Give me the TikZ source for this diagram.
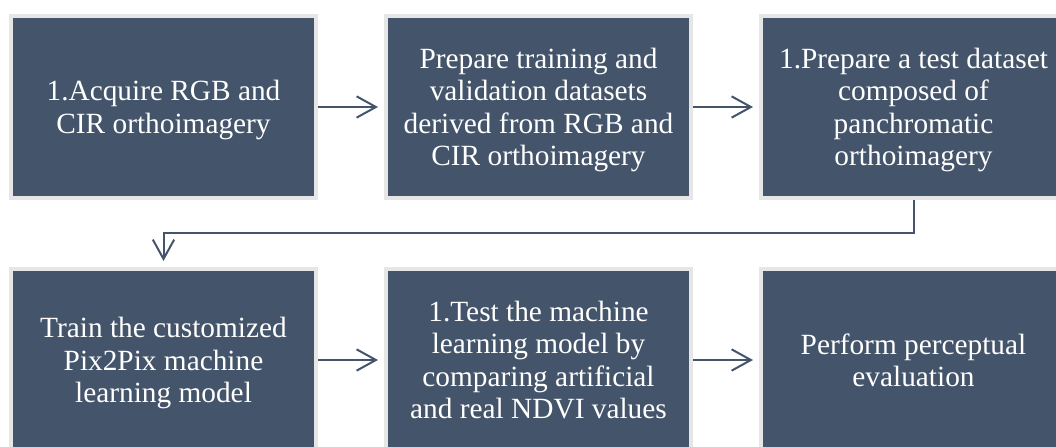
\documentclass[tikz,border=0pt]{standalone}
\usepackage{fontspec}
\setmainfont{Liberation Serif}
\usetikzlibrary{arrows.meta}

\definecolor{slate}{HTML}{44546A}
\definecolor{frame}{HTML}{E7E6E6}

\tikzset{
  stepbox/.style={
    rectangle, fill=slate, draw=frame, line width=3pt,
    minimum width=228.75pt, minimum height=136.5pt,
    inner sep=0pt, align=center, text=white, text depth=0pt,
    font=\fontsize{22}{24.4}\selectfont
  },
  flow/.style={
    draw=slate, line width=1.5pt,
    -{Straight Barb[length=14.5pt,width=16pt,line width=1.5pt]},
    shorten >=4.5pt
  }
}

\begin{document}
\begin{tikzpicture}[x=0.75pt, y=-0.75pt]
  \clip (0,0) rectangle (1056,446);

  % top row
  \node[stepbox] (b1) at (163.5,107) {1.Acquire RGB and\\CIR orthoimagery};
  \node[stepbox] (b2) at (538.5,107) {Prepare training and\\validation datasets\\derived from RGB and\\CIR orthoimagery};
  \node[stepbox] (b3) at (913.5,107) {1.Prepare a test dataset\\composed of\\panchromatic\\orthoimagery};

  % bottom row
  \node[stepbox] (b4) at (163.5,360) {Train the customized\\Pix2Pix machine\\learning model};
  \node[stepbox] (b5) at (538.5,360) {1.Test the machine\\learning model by\\comparing artificial\\and real NDVI values};
  \node[stepbox] (b6) at (913.5,360) {Perform perceptual\\evaluation};

  % connectors
  \draw[flow] (b1) -- (b2);
  \draw[flow] (b2) -- (b3);
  \draw[flow] (b3.south) -- ++(0,33) -| (b4.north);
  \draw[flow] (b4) -- (b5);
  \draw[flow] (b5) -- (b6);
\end{tikzpicture}
\end{document}
